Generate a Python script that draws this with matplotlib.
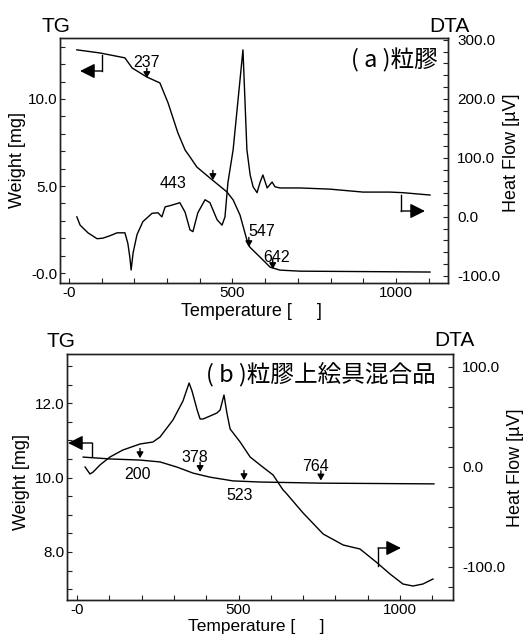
import matplotlib
matplotlib.use("Agg")
import matplotlib.pyplot as plt
from matplotlib.ticker import MultipleLocator, FixedLocator, FixedFormatter

plt.rcParams['font.family'] = ['Liberation Sans', 'DejaVu Sans']

# ---------------- data: panel (a) ----------------
a_tg_T = [24, 95, 171, 193, 238, 278, 303, 333, 355, 370, 391, 431, 483, 502,
          523, 544, 553, 584, 615, 645, 706, 1104]
a_tg_W = [12.82, 12.64, 12.36, 11.78, 11.26, 10.92, 9.77, 8.05, 7.07, 6.67, 6.09,
          5.46, 4.66, 4.20, 3.33, 1.90, 1.49, 0.92, 0.34, 0.17, 0.11, 0.06]
a_dta_T = [24, 34, 58, 86, 104, 125, 147, 171, 180, 186, 190, 196, 208, 226, 254,
           272, 284, 294, 309, 339, 355, 370, 379, 394, 416, 431, 453, 468, 477,
           486, 502, 532, 544, 554, 563, 575, 584, 593, 606, 621, 630, 645, 706,
           798, 899, 982, 1021, 1104]
a_dta_V = [0, -14, -27, -37, -36, -32, -27, -27, -45, -68, -90, -61, -30, -8, 6,
           7, 0, 17, 19, 24, 8, -22, -25, 7, 29, 24, -5, -14, 0,
           58, 114, 283, 114, 71, 51, 41, 58, 71, 49, 59, 51, 49, 49,
           47, 42, 42, 41, 37]
a_mark_T = [238, 440, 550, 623]
a_mark_W = [11.2, 5.34, 1.49, 0.23]
a_mark_lbl = ['237', '443', '547', '642']
a_lbl_T = [238, 318, 590, 636]
a_lbl_W = [12.07, 5.17, 2.41, 0.92]

# ---------------- data: panel (b) ----------------
b_tg_T = [19, 102, 195, 257, 310, 359, 412, 483, 567, 752, 1105]
b_tg_W = [10.55, 10.50, 10.47, 10.42, 10.28, 10.12, 10.01, 9.91, 9.88, 9.85, 9.83]
b_dta_T = [25, 40, 50, 71, 102, 142, 195, 235, 257, 297, 328, 347, 356, 372, 381,
           390, 412, 433, 443, 455, 464, 474, 505, 536, 567, 607, 638, 647, 700,
           762, 824, 876, 926, 969, 1009, 1040, 1071, 1102]
b_dta_V = [0, -7, -5, 2, 10, 17, 23, 25, 30, 47, 66, 84, 76, 57, 48,
           48, 51, 54, 57, 72, 54, 38, 25, 10, 2, -8, -23, -26, -46,
           -67, -78, -82, -95, -107, -117, -119, -117, -112]
b_mark_T = [195, 381, 517, 755]
b_mark_W = [10.52, 10.15, 9.93, 9.92]
b_mark_lbl = ['200', '378', '523', '764']
b_lbl_T = [186, 365, 502, 737]
b_lbl_W = [10.07, 10.55, 9.53, 10.31]

x_ticks = [0, 500, 1000]
x_ticklabels = ['-0', '500', '1000']
a_w_ticks = [0, 5, 10]
a_w_ticklabels = ['-0.0', '5.0', '10.0']
a_h_ticks = [-100, 0, 100, 200, 300]
a_h_ticklabels = ['-100.0', '0.0', '100.0', '200.0', '300.0']
b_w_ticks = [8, 10, 12]
b_w_ticklabels = ['8.0', '10.0', '12.0']
b_h_ticks = [-100, 0, 100]
b_h_ticklabels = ['-100.0', '0.0', '100.0']

W, H = 526, 636
fig = plt.figure(figsize=(W / 100, H / 100), dpi=100)

SPC = '#222222'
TICKFS = 11
LABFS = 13


def box(l, t, r, b):
    return [l / W, 1 - b / H, (r - l) / W, (b - t) / H]


def style(ax, ax2):
    for a in (ax, ax2):
        for s in a.spines.values():
            s.set_color(SPC)
            s.set_linewidth(1.0)
    ax.tick_params(axis='both', which='both', direction='in', length=3.5,
                   width=0.8, color=SPC, labelsize=TICKFS)
    ax.tick_params(axis='y', pad=1.5)
    ax.tick_params(axis='x', pad=2.5)
    ax2.tick_params(axis='y', which='both', direction='in', length=3.5,
                    width=0.8, color=SPC, labelsize=TICKFS, pad=6.5)


def elbow(ax, xv, y0, y1, xt):
    ax.plot([xv, xv], [y0, y1], color='k', lw=1.0, transform=ax.transAxes,
            clip_on=False)
    ax.annotate('', xy=(xt, y1), xytext=(xv, y1), xycoords='axes fraction',
                textcoords='axes fraction',
                arrowprops=dict(arrowstyle='-|>,head_length=0.9,head_width=0.45',
                                color='k', lw=1.0, shrinkA=0, shrinkB=0))


def marks(ax, mt, mw, lt, lw_, lbls):
    for T, Wt in zip(mt, mw):
        ax.annotate('', xy=(T, Wt), xytext=(0, 7), textcoords='offset points',
                    xycoords='data',
                    arrowprops=dict(arrowstyle='-|>,head_length=0.35,head_width=0.2',
                                    color='k', lw=1.0, shrinkA=0, shrinkB=0))
    for T, Wt, s in zip(lt, lw_, lbls):
        ax.text(T, Wt, s, ha='center', va='center', fontsize=11.5)


# ---------------- panel (a) ----------------
axa = fig.add_axes(box(60, 38, 448, 283))
axa2 = axa.twinx()
axa.plot(a_tg_T, a_tg_W, color='k', lw=1.0, solid_joinstyle='round')
axa2.plot(a_dta_T, a_dta_V, color='k', lw=1.0, solid_joinstyle='round')
axa.set_xlim(-27.5, 1159)
axa.set_ylim(-0.57, 13.5)
axa2.set_ylim(-112, 303)
axa.xaxis.set_major_locator(FixedLocator(x_ticks))
axa.xaxis.set_major_formatter(FixedFormatter(x_ticklabels))
axa.xaxis.set_minor_locator(MultipleLocator(100))
axa.yaxis.set_major_locator(FixedLocator(a_w_ticks))
axa.yaxis.set_major_formatter(FixedFormatter(a_w_ticklabels))
axa.yaxis.set_minor_locator(MultipleLocator(1))
axa2.yaxis.set_major_locator(FixedLocator(a_h_ticks))
axa2.yaxis.set_major_formatter(FixedFormatter(a_h_ticklabels))
axa2.yaxis.set_minor_locator(MultipleLocator(20))
style(axa, axa2)
axa.set_xlabel('Temperature [     ]', fontsize=LABFS, va='center')
axa.xaxis.set_label_coords((251 - 60) / 388, (283 - 311) / 245)
axa.set_ylabel('Weight [mg]', fontsize=LABFS, va='center')
axa.yaxis.set_label_coords((18 - 60) / 388, (283 - 160) / 245)
axa2.set_ylabel('Heat Flow [µV]', fontsize=LABFS, va='center', rotation=90)
axa2.yaxis.set_label_coords((511 - 60) / 388, (283 - 153) / 245)
marks(axa, a_mark_T, a_mark_W, a_lbl_T, a_lbl_W, a_mark_lbl)
axa.text(0.974, 0.910, '( a )粒膠', transform=axa.transAxes, ha='right',
         va='center', fontsize=17, family=['Noto Sans CJK JP', 'DejaVu Sans'])
elbow(axa, (102 - 60) / 388, (283 - 55) / 245, (283 - 71) / 245, (80 - 60) / 388)
elbow(axa, (401 - 60) / 388, (283 - 195) / 245, (283 - 211) / 245, (425 - 60) / 388)
fig.text(56 / W, 1 - 26 / H, 'TG', ha='center', va='center', fontsize=15)
fig.text(449 / W, 1 - 26 / H, 'DTA', ha='center', va='center', fontsize=15)

# ---------------- panel (b) ----------------
axb = fig.add_axes(box(67, 354, 453, 600))
axb2 = axb.twinx()
axb.plot(b_tg_T, b_tg_W, color='k', lw=1.0, solid_joinstyle='round')
axb2.plot(b_dta_T, b_dta_V, color='k', lw=1.0, solid_joinstyle='round')
axb.set_xlim(-31, 1164)
axb.set_ylim(6.71, 13.32)
axb2.set_ylim(-133, 113)
axb.xaxis.set_major_locator(FixedLocator(x_ticks))
axb.xaxis.set_major_formatter(FixedFormatter(x_ticklabels))
axb.xaxis.set_minor_locator(MultipleLocator(100))
axb.yaxis.set_major_locator(FixedLocator(b_w_ticks))
axb.yaxis.set_major_formatter(FixedFormatter(b_w_ticklabels))
axb.yaxis.set_minor_locator(MultipleLocator(0.5))
axb2.yaxis.set_major_locator(FixedLocator(b_h_ticks))
axb2.yaxis.set_major_formatter(FixedFormatter(b_h_ticklabels))
axb2.yaxis.set_minor_locator(MultipleLocator(20))
style(axb, axb2)
axb.set_xlabel('Temperature [     ]', fontsize=12.5, va='center')
axb.xaxis.set_label_coords((256 - 67) / 386, (600 - 627) / 246)
axb.set_ylabel('Weight [mg]', fontsize=LABFS, va='center')
axb.yaxis.set_label_coords((22 - 67) / 386, (600 - 482) / 246)
axb2.set_ylabel('Heat Flow [µV]', fontsize=LABFS, va='center', rotation=90)
axb2.yaxis.set_label_coords((515 - 67) / 386, (600 - 468) / 246)
marks(axb, b_mark_T, b_mark_W, b_lbl_T, b_lbl_W, b_mark_lbl)
axb.text(0.956, 0.915, '( b )粒膠上絵具混合品', transform=axb.transAxes,
         ha='right', va='center', fontsize=17,
         family=['Noto Sans CJK JP', 'DejaVu Sans'])
elbow(axb, (92 - 67) / 386, (600 - 456) / 246, (600 - 443) / 246, (68 - 67) / 386)
elbow(axb, (378 - 67) / 386, (600 - 566) / 246, (600 - 548) / 246, (401 - 67) / 386)
fig.text(61 / W, 1 - 341 / H, 'TG', ha='center', va='center', fontsize=15)
fig.text(454 / W, 1 - 340 / H, 'DTA', ha='center', va='center', fontsize=15)

fig.savefig('out.png', dpi=100)
